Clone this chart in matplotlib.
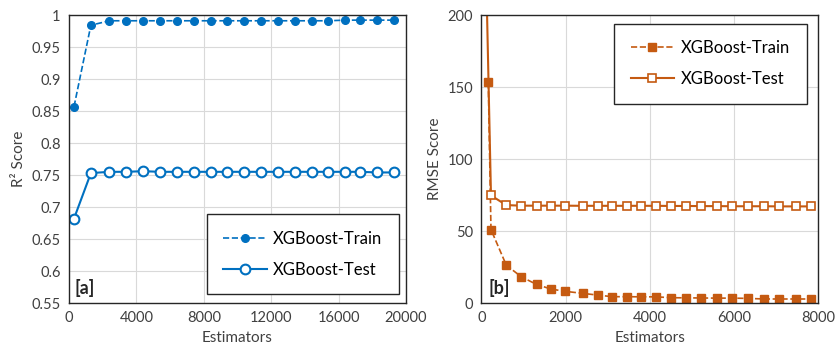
import numpy as np
import matplotlib.pyplot as plt

plt.rcParams['font.family'] = ['Lato', 'DejaVu Sans']

# [a] R2 score vs estimators
r2_x = [300, 1300, 2400, 3400, 4400, 5400, 6400, 7400, 8400, 9400, 10400,
        11400, 12400, 13400, 14400, 15400, 16400, 17300, 18300, 19300]
r2_train = [0.857, 0.984, 0.991, 0.991, 0.991, 0.991, 0.991, 0.991, 0.991, 0.991,
            0.991, 0.991, 0.991, 0.991, 0.991, 0.991, 0.992, 0.992, 0.992, 0.992]
r2_test = [0.682, 0.753, 0.755, 0.755, 0.756, 0.755, 0.755, 0.755, 0.755, 0.755,
           0.755, 0.755, 0.755, 0.755, 0.755, 0.755, 0.755, 0.755, 0.754, 0.754]

# [b] RMSE score vs estimators
rmse_train_x = [166, 230, 593, 950, 1313, 1654, 1994, 2413, 2762, 3110, 3450, 3798,
                4138, 4502, 4850, 5222, 5594, 5958, 6338, 6718, 7074, 7462, 7826]
rmse_train = [153.2, 51.0, 26.3, 18.2, 12.9, 9.7, 8.1, 6.7, 5.5, 4.4, 4.4, 4.3,
              4.3, 3.7, 3.6, 3.5, 3.4, 3.4, 3.2, 2.8, 2.8, 2.8, 2.8]
rmse_test_x = [100, 230, 593, 950, 1313, 1654, 1994, 2413, 2762, 3110, 3450, 3798,
               4138, 4502, 4850, 5222, 5594, 5958, 6338, 6718, 7074, 7462, 7826]
rmse_test = [250.0, 74.7, 68.0, 67.6, 67.6, 67.6, 67.6, 67.5, 67.5, 67.5, 67.5, 67.5,
             67.5, 67.4, 67.4, 67.3, 67.3, 67.2, 67.2, 67.2, 67.1, 67.1, 67.1]

blue = '#0070C0'
orange = '#C55A11'
grid_c = '#d9d9d9'
text_c = '#404040'

fig = plt.figure(figsize=(8.35, 3.54), dpi=100)
ax1 = fig.add_axes([0.0826, 0.144, 0.4036, 0.8136])
ax2 = fig.add_axes([0.5764, 0.144, 0.4036, 0.8136])

leg_kw = dict(fontsize=12, fancybox=False, edgecolor='#262626', framealpha=1,
              handlelength=2.6, borderpad=1.0, labelspacing=0.9,
              handletextpad=0.4, borderaxespad=0)

ax1.plot(r2_x, r2_train, '--', color=blue, lw=1.2, marker='o', ms=5.5,
         label='XGBoost-Train')
ax1.plot(r2_x, r2_test, '-', color=blue, lw=1.5, marker='o', ms=7,
         mfc='white', mew=1.5, label='XGBoost-Test')
ax1.set_xlim(0, 20000)
ax1.set_ylim(0.55, 1)
ax1.set_xticks(np.arange(0, 20001, 4000))
ax1.set_yticks(np.arange(0.55, 1.001, 0.05))
ax1.set_yticklabels(['0.55', '0.6', '0.65', '0.7', '0.75', '0.8', '0.85', '0.9', '0.95', '1'])
ax1.set_xlabel('Estimators', fontsize=11, color=text_c)
ax1.set_ylabel('R² Score', fontsize=11, color=text_c)
ax1.text(0.015, 0.03, '[a]', transform=ax1.transAxes, fontsize=13,
         fontweight='bold', color='#262626')
ax1.legend(loc='lower right', bbox_to_anchor=(0.98, 0.03), **leg_kw)

ax2.plot(rmse_train_x, rmse_train, '--', color=orange, lw=1.2, marker='s', ms=5.5,
         label='XGBoost-Train')
ax2.plot(rmse_test_x, rmse_test, '-', color=orange, lw=1.5, marker='s', ms=5.5,
         mfc='white', mew=1.2, label='XGBoost-Test')
ax2.set_xlim(0, 8000)
ax2.set_ylim(0, 200)
ax2.set_xticks(np.arange(0, 8001, 2000))
ax2.set_yticks(np.arange(0, 201, 50))
ax2.set_xlabel('Estimators', fontsize=11, color=text_c)
ax2.set_ylabel('RMSE Score', fontsize=11, color=text_c)
ax2.text(0.02, 0.03, '[b]', transform=ax2.transAxes, fontsize=13,
         fontweight='bold', color='#262626')
ax2.legend(loc='upper right', bbox_to_anchor=(0.965, 0.97), **leg_kw)

for ax in (ax1, ax2):
    ax.grid(True, color=grid_c, lw=0.8)
    ax.set_axisbelow(True)
    ax.tick_params(length=0, labelsize=10.5, colors=text_c, pad=6)
    for s in ax.spines.values():
        s.set_color('#262626')
        s.set_linewidth(1.0)

fig.savefig('out.png', dpi=100)
